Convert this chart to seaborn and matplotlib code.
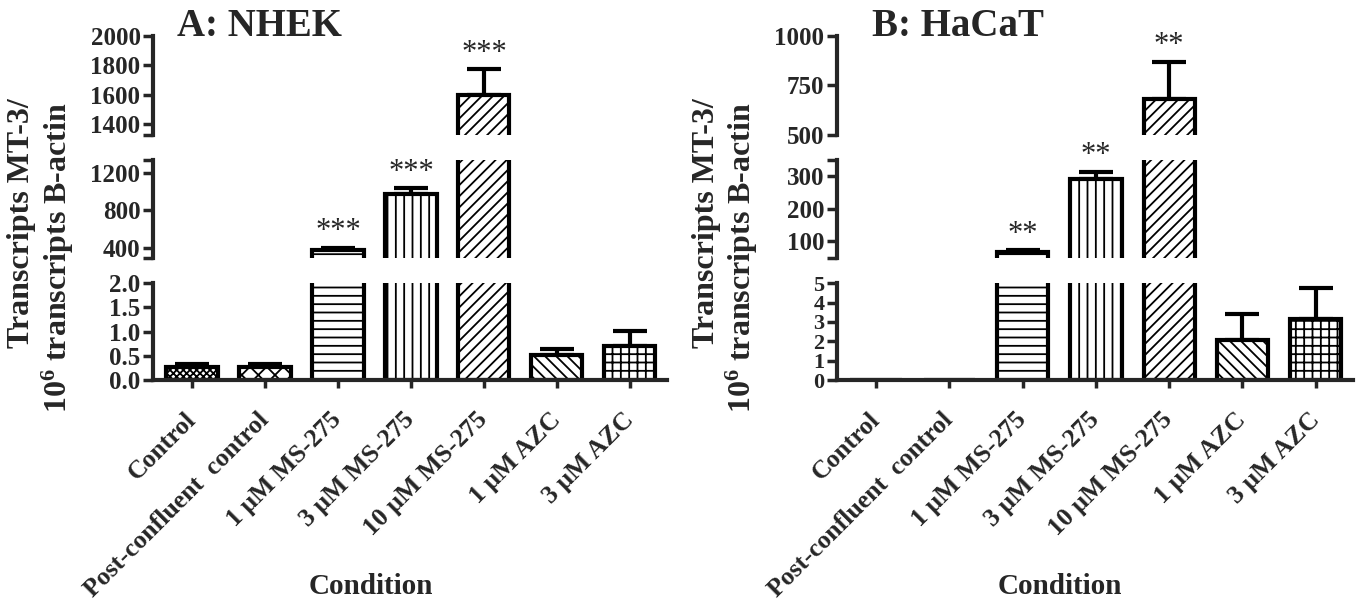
import numpy as np
import matplotlib
matplotlib.use("Agg")
import matplotlib.pyplot as plt
import seaborn as sns

# ---------------- data ----------------
categories = ["Control", "Post-confluent  control", "1 μM MS-275", "3 μM MS-275",
              "10 μM MS-275", "1 μM AZC", "3 μM AZC"]
nhek_mean = [0.27, 0.27, 380, 980, 1600, 0.52, 0.70]
nhek_err = [0.07, 0.07, 26, 55, 175, 0.13, 0.31]
nhek_stars = ["", "", "***", "***", "***", "", ""]
hacat_mean = [0, 0, 66, 293, 680, 2.05, 3.17]
hacat_err = [0, 0, 8, 21, 190, 1.35, 1.6]
hacat_stars = ["", "", "**", "**", "**", "", ""]

nhek_segments = [(1325, 2000), (300, 1335), (0, 2.0)]
nhek_ticks = [[1400, 1600, 1800, 2000], [400, 800, 1200], [0, 0.5, 1.0, 1.5, 2.0]]
nhek_ticklabels = [["1400", "1600", "1800", "2000"], ["400", "800", "1200"],
                   ["0.0", "0.5", "1.0", "1.5", "2.0"]]
hacat_segments = [(500, 1000), (50, 350), (0, 5)]
hacat_ticks = [[500, 750, 1000], [100, 200, 300], [0, 1, 2, 3, 4, 5]]
hacat_ticklabels = [["500", "750", "1000"], ["100", "200", "300"],
                    ["0", "1", "2", "3", "4", "5"]]

hatches = ["xxxxx", "xx", "--", "||", "///", "\\\\\\", "++"]

# ---------------- style ----------------
sns.set_style("ticks")
plt.rcParams["font.family"] = ["Liberation Serif", "DejaVu Serif"]
plt.rcParams["font.weight"] = "bold"
plt.rcParams["mathtext.fontset"] = "custom"
plt.rcParams["mathtext.rm"] = "Liberation Serif"
plt.rcParams["mathtext.bf"] = "Liberation Serif:bold"
plt.rcParams["hatch.linewidth"] = 1.3

LW = 3.0
fig = plt.figure(figsize=(13.6, 6.01), dpi=100)

seg_bottoms = [0.7754, 0.5712, 0.3677]
seg_heights = [0.1647, 0.1626, 0.1609]


def draw_panel(left, width, means, errs, stars, segments, ticks, ticklabels,
               bottom_labelsize=18):
    means = np.asarray(means, float)
    errs = np.asarray(errs, float)
    idx = np.arange(len(categories))
    axes = []
    for k, (seg, tk, tl) in enumerate(zip(segments, ticks, ticklabels)):
        ax = fig.add_axes([left, seg_bottoms[k], width, seg_heights[k]])
        sns.barplot(x=categories, y=means, color="white", edgecolor="black",
                    linewidth=LW, width=0.7, saturation=1, errorbar=None, ax=ax)
        for p, h in zip(ax.patches, hatches):
            p.set_hatch(h)
            p.set_facecolor("white")
        m = errs > 0
        ax.errorbar(idx[m], means[m], yerr=[np.zeros(m.sum()), errs[m]], fmt="none",
                    ecolor="black", elinewidth=LW, capsize=12, capthick=LW, zorder=0.5)
        ax.set_ylim(seg)
        ax.set_xlim(-0.534, 6.507)
        # ticks (segment ends get unlabeled ticks)
        all_t = list(tk)
        all_l = list(tl)
        for end in seg:
            if not any(abs(end - t) < 1e-9 for t in tk):
                all_t.append(end)
                all_l.append("")
        ax.set_yticks(all_t)
        ax.set_yticklabels(all_l)
        lsize = bottom_labelsize if k == len(segments) - 1 else 18
        ax.tick_params(axis="y", direction="out", length=7, width=2.5, labelsize=lsize, pad=2)
        for lab in ax.get_yticklabels():
            lab.set_fontweight("bold")
        sns.despine(ax=ax)
        ax.spines["left"].set_linewidth(LW)
        ax.spines["bottom"].set_linewidth(LW)
        ax.set_xlabel("")
        ax.set_ylabel("")
        if k < len(segments) - 1:
            ax.spines["bottom"].set_visible(False)
            ax.tick_params(axis="x", bottom=False, labelbottom=False)
        else:
            ax.set_xticks(idx)
            ax.set_xticklabels(categories, rotation=45, ha="right", va="center",
                               rotation_mode="anchor", fontsize=18.5, fontweight="bold")
            ax.tick_params(axis="x", direction="out", length=6, width=2.5, pad=20)
        ax.patch.set_alpha(0)
        # significance stars
        for i in idx:
            if stars[i]:
                top = means[i] + errs[i]
                if seg[0] <= top <= seg[1]:
                    ax.annotate(stars[i], xy=(i, top), xytext=(0, 6),
                                textcoords="offset points", ha="center", va="baseline",
                                fontsize=22, fontweight="normal", annotation_clip=False)
        axes.append(ax)
    return axes


draw_panel(0.1125, 0.3779, nhek_mean, nhek_err, nhek_stars, nhek_segments,
           nhek_ticks, nhek_ticklabels)
draw_panel(0.6154, 0.3794, hacat_mean, hacat_err, hacat_stars, hacat_segments,
           hacat_ticks, hacat_ticklabels, bottom_labelsize=16)

# titles
fig.text(177 / 1360, 1 - 27 / 601, "A: NHEK", fontsize=28, fontweight="bold",
         ha="left", va="center")
fig.text(872 / 1360, 1 - 27 / 601, "B: HaCaT", fontsize=28, fontweight="bold",
         ha="left", va="center")

# y labels
for x1, x2 in [(22, 58), (706, 742)]:
    fig.text(x1 / 1360, 1 - 223 / 601, "Transcripts MT-3/", rotation=90, fontsize=23,
             fontweight="bold", ha="center", va="center")
    fig.text(x2 / 1360, 1 - 258 / 601, r"$\mathbf{10^{6}}$ transcripts B-actin",
             rotation=90, fontsize=23, fontweight="bold", ha="center", va="center")

# x labels
fig.text(371 / 1360, 1 - 587 / 601, "Condition", fontsize=21, fontweight="bold",
         ha="center", va="center")
fig.text(1060 / 1360, 1 - 587 / 601, "Condition", fontsize=21, fontweight="bold",
         ha="center", va="center")

fig.savefig("out.png", dpi=100)
